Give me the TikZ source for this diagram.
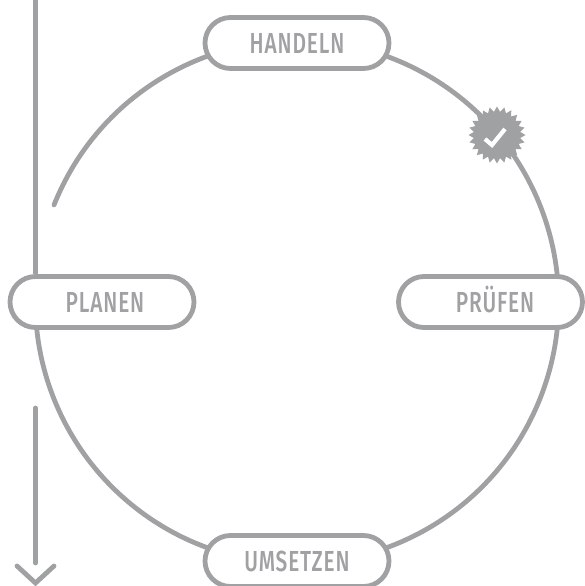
\documentclass[tikz,border=0pt]{standalone}
\usepackage{fontspec}
\setmainfont[FakeStretch=0.72,LetterSpace=3,UprightFont=* Medium]{Fira Sans}
\usetikzlibrary{shapes.misc,shapes.geometric}
\definecolor{dgray}{RGB}{160,161,163}
\tikzset{
  line/.style={draw=dgray,line width=4.8pt,line cap=round},
  pill/.style={rounded rectangle,draw=dgray,line width=4.8pt,fill=white,minimum width=184pt,minimum height=51pt,inner sep=0pt,text=dgray,text height=20pt,text depth=0pt,font=\fontsize{29}{29}\selectfont},
}
\begin{document}
\begin{tikzpicture}[x=1pt,y=-1pt]
\useasboundingbox (0,0) rectangle (584,586);
\coordinate (c) at (297,302);
\coordinate (top) at (35.5,0);
\coordinate (s) at (54,205);
\coordinate (ar) at (35.5,408);
\coordinate (ae) at (35.5,563);
\coordinate (at) at (35.5,583);
\coordinate (al) at (17,566);
\coordinate (arr) at (54,566);
\draw[line,line cap=round] (s) arc[start angle=201.76,end angle=540,radius=261.6];
\node[pill] (handeln) at (297,43) {HANDELN};
\node[pill] (umsetzen) at (297,561) {UMSETZEN};
\node[pill] (planen) at (102,302) {\hspace*{6pt}PLANEN};
\node[pill] (pruefen) at (490.5,302) {\hspace*{9pt}PRÜFEN};
\draw[line,line cap=butt] (top) -- (planen.north -| top);
\draw[line] (ar) -- (ae);
\draw[line,line join=miter] (al) -- (at) -- (arr);
\node[star,star points=24,star point ratio=1.22,minimum size=57pt,inner sep=0pt,fill=dgray] (badge) at (497,135) {};
\draw[draw=white,line width=4.2pt,line join=miter] (485,139) -- (492,145) -- (505,129);
\end{tikzpicture}
\end{document}
